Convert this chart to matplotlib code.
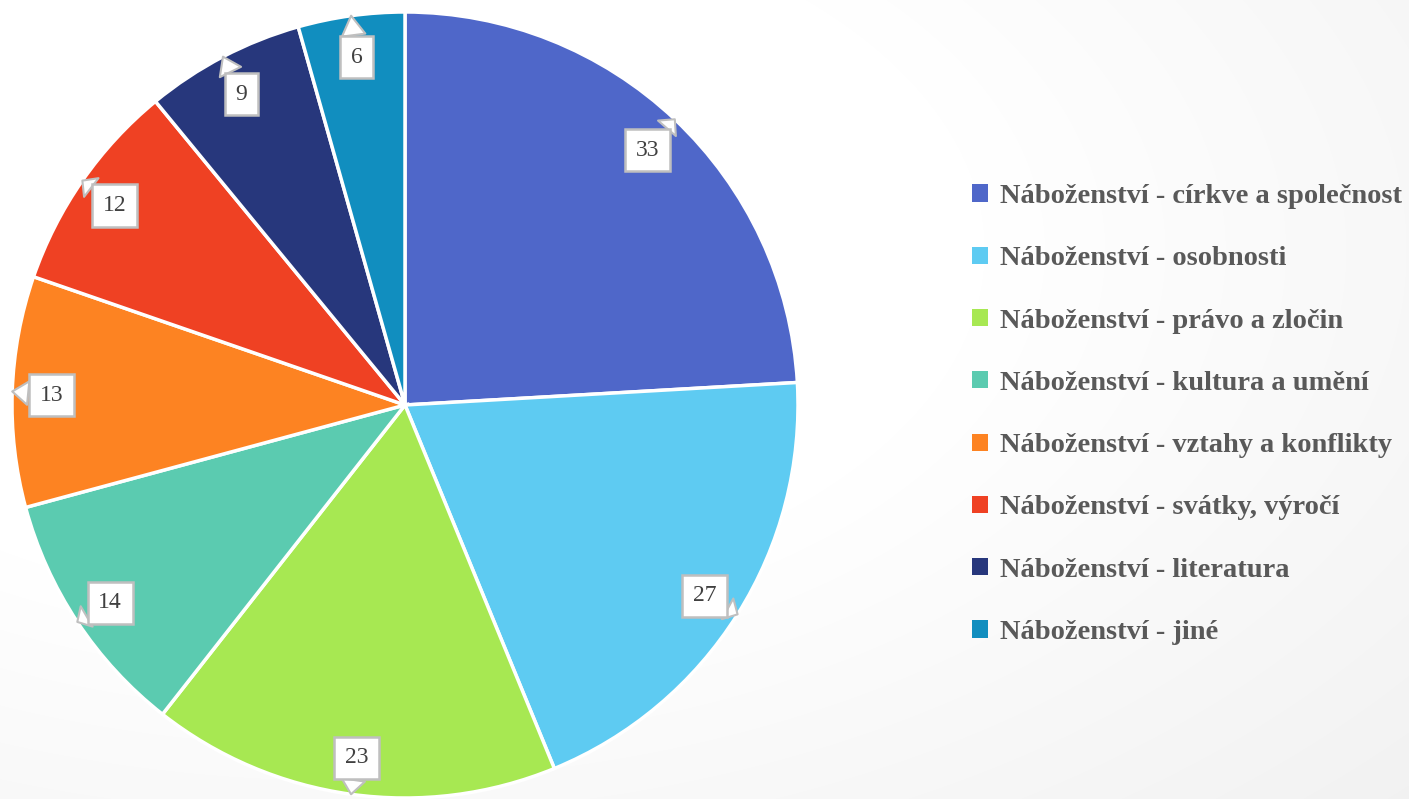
import numpy as np
import matplotlib
matplotlib.use("Agg")
import matplotlib.pyplot as plt

categories = [
    "Náboženství - církve a společnost",
    "Náboženství - osobnosti",
    "Náboženství - právo a zločin",
    "Náboženství - kultura a umění",
    "Náboženství - vztahy a konflikty",
    "Náboženství - svátky, výročí",
    "Náboženství - literatura",
    "Náboženství - jiné",
]
values = [33, 27, 23, 14, 13, 12, 9, 6]
colors = ["#4F67C9", "#5ECBF2", "#A7E852", "#5BCBB0",
          "#FD8322", "#EF4123", "#27377C", "#118EBF"]

W, H = 1409, 799
fig = plt.figure(figsize=(W / 100, H / 100), dpi=100)

# subtle background gradient (white top-left, light grey bottom-right)
bg = fig.add_axes([0, 0, 1, 1], zorder=-10)
yy, xx = np.mgrid[0:H, 0:W]
d = np.sqrt(((xx - 350) / W) ** 2 + ((yy - 250) / H) ** 2)
g = 1.0 - 0.055 * np.clip((d - 0.45) / 0.6, 0, 1)
bg.imshow(np.dstack([g, g, g]), aspect="auto", extent=[0, 1, 0, 1])
bg.axis("off")

cx, cy, r = 405, 405, 393
ax = fig.add_axes([(cx - r) / W, (H - cy - r) / H, 2 * r / W, 2 * r / H])
ax.axis("off")
ax.patch.set_alpha(0)

wedges, _ = ax.pie(values, colors=colors, startangle=90, counterclock=False,
                   radius=1.0, center=(0, 0),
                   wedgeprops=dict(edgecolor="white", linewidth=2.5))
ax.set_xlim(-1, 1)
ax.set_ylim(-1, 1)

total = sum(values)
cum = 0
for v in values:
    mid = (cum + v / 2) / total * 2 * np.pi
    cum += v
    sx, sy = np.sin(mid), np.cos(mid)
    ax.annotate(str(v), xy=(sx * 1.0, sy * 1.0), xytext=(sx * 0.9, sy * 0.9),
                ha="center", va="center_baseline", fontsize=17, color="#404040",
                family="Liberation Serif",
                bbox=dict(boxstyle="square,pad=0.45", fc="white", ec="#BFBFBF", lw=1.8),
                arrowprops=dict(arrowstyle="wedge,tail_width=1.0,shrink_factor=0.5",
                                fc="white", ec="#BFBFBF", lw=1.5,
                                shrinkA=0, shrinkB=0))

leg = fig.legend(wedges, categories, loc="upper left",
                 bbox_to_anchor=(972 / W, 1 - 184 / H),
                 frameon=False, labelspacing=1.31,
                 handlelength=0.55, handleheight=0.55, handletextpad=0.45,
                 borderaxespad=0, borderpad=0,
                 prop=dict(family="Liberation Serif", weight="bold", size=20.5))
for t in leg.get_texts():
    t.set_color("#595959")
for h in leg.legend_handles:
    h.set_edgecolor("none")

fig.savefig("out.png", dpi=100)
